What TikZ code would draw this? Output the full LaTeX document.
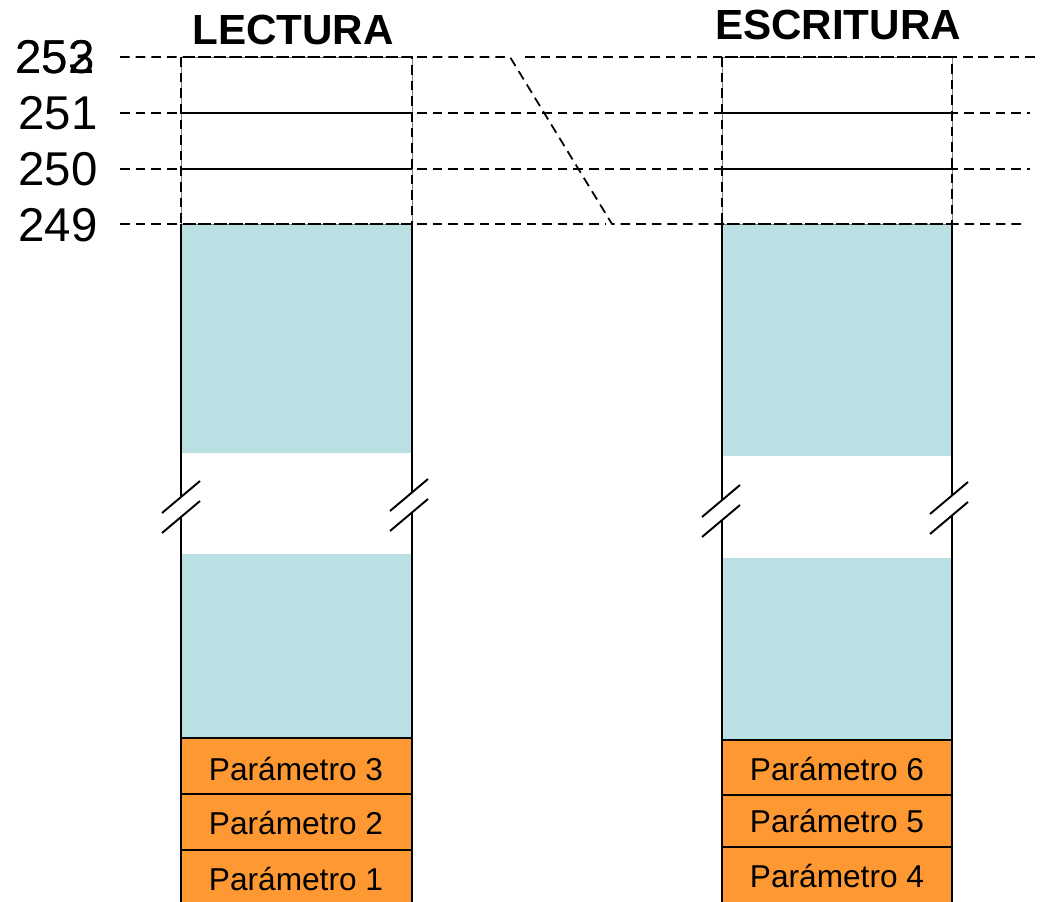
\documentclass[tikz,border=0pt]{standalone}
\usepackage{fontspec}
\setmainfont{Liberation Sans}
\definecolor{celeste}{RGB}{186,224,227}
\definecolor{naranja}{RGB}{253,152,51}

\begin{document}
\begin{tikzpicture}[x=0.02cm,y=-0.02cm,
    guia/.style={line width=1pt,dash pattern=on 5.5pt off 3.4pt},
    borde/.style={line width=1.1pt},
    param/.style={draw,fill=naranja,line width=1.1pt},
    texto/.style={font=\fontsize{18}{20}\selectfont},
    corte/.style={line width=1.1pt},
    dir/.style={inner sep=0pt,anchor=east,font=\fontsize{27}{30}\selectfont},
    titulo/.style={inner sep=0pt,font=\bfseries\fontsize{24}{28}\selectfont}]
  \useasboundingbox (0,0) rectangle (1042,902);

  % titles
  \node[titulo] (lect) at (293,30) {LECTURA};
  \node[titulo] (escr) at (838,25) {ESCRITURA};

  % addresses
  \node[dir] (d252) at (95,57) {252};
  \node[dir] (d253) at (95,57) {253};
  \node[dir] (d251) at (98,113) {251};
  \node[dir] (d250) at (98,169) {250};
  \node[dir] (d249) at (98,225) {249};

  % stack areas
  \fill[celeste] (181,224) rectangle (412,453);
  \fill[celeste] (181,554) rectangle (412,738);
  \fill[celeste] (722,224) rectangle (952,456);
  \fill[celeste] (722,558) rectangle (952,740);

  % top cells
  \draw[gray,thin] (181,57) rectangle (412,224);
  \draw[gray,thin] (722,57) rectangle (952,224);
  \draw[borde] (181,113) -- (412,113) (181,169) -- (412,169);
  \draw[borde] (722,113) -- (952,113) (722,169) -- (952,169);
  \draw[guia] (181,57) rectangle (412,224);
  \draw[guia] (722,57) rectangle (952,224);

  % column sides
  \draw[borde] (181,224) -- (181,910) (412,224) -- (412,910);
  \draw[borde] (722,224) -- (722,910) (952,224) -- (952,910);

  % parameters
  \draw[param] (181,738) rectangle (412,794);
  \draw[param] (181,794) rectangle (412,850);
  \draw[param] (181,850) rectangle (412,910);
  \draw[param] (722,740) rectangle (952,795);
  \draw[param] (722,795) rectangle (952,847);
  \draw[param] (722,847) rectangle (952,910);
  \node[texto] (p3) at (296,769) {Parámetro 3};
  \node[texto] (p2) at (296,823) {Parámetro 2};
  \node[texto] (p1) at (296,879) {Parámetro 1};
  \node[texto] (p6) at (837,769) {Parámetro 6};
  \node[texto] (p5) at (837,821) {Parámetro 5};
  \node[texto] (p4) at (837,876) {Parámetro 4};

  % breaks
  \foreach \cx/\cy in {181/507, 409/505, 721/511, 949/508} {
    \fill[white] (\cx-19,\cy-10+16) -- (\cx+19,\cy-10-16) -- (\cx+19,\cy+10-16) -- (\cx-19,\cy+10+16) -- cycle;
    \draw[corte] (\cx-19,\cy-10+16) -- (\cx+19,\cy-10-16);
    \draw[corte] (\cx-19,\cy+10+16) -- (\cx+19,\cy+10-16);
  }

  % guide lines
  \coordinate (a) at (510,57);
  \coordinate (b) at (612,224);
  \draw[guia] (d252.east) ++(25,0) -- (a) -- (b) -- (1025,224);
  \draw[guia] (525,57) -- (1035,57);
  \draw[guia] (d251.east) ++(22,0) -- (1030,113);
  \draw[guia] (d250.east) ++(22,0) -- (1030,169);
  \draw[guia] (d249.east) ++(22,-1) -- (605,224);
\end{tikzpicture}
\end{document}
